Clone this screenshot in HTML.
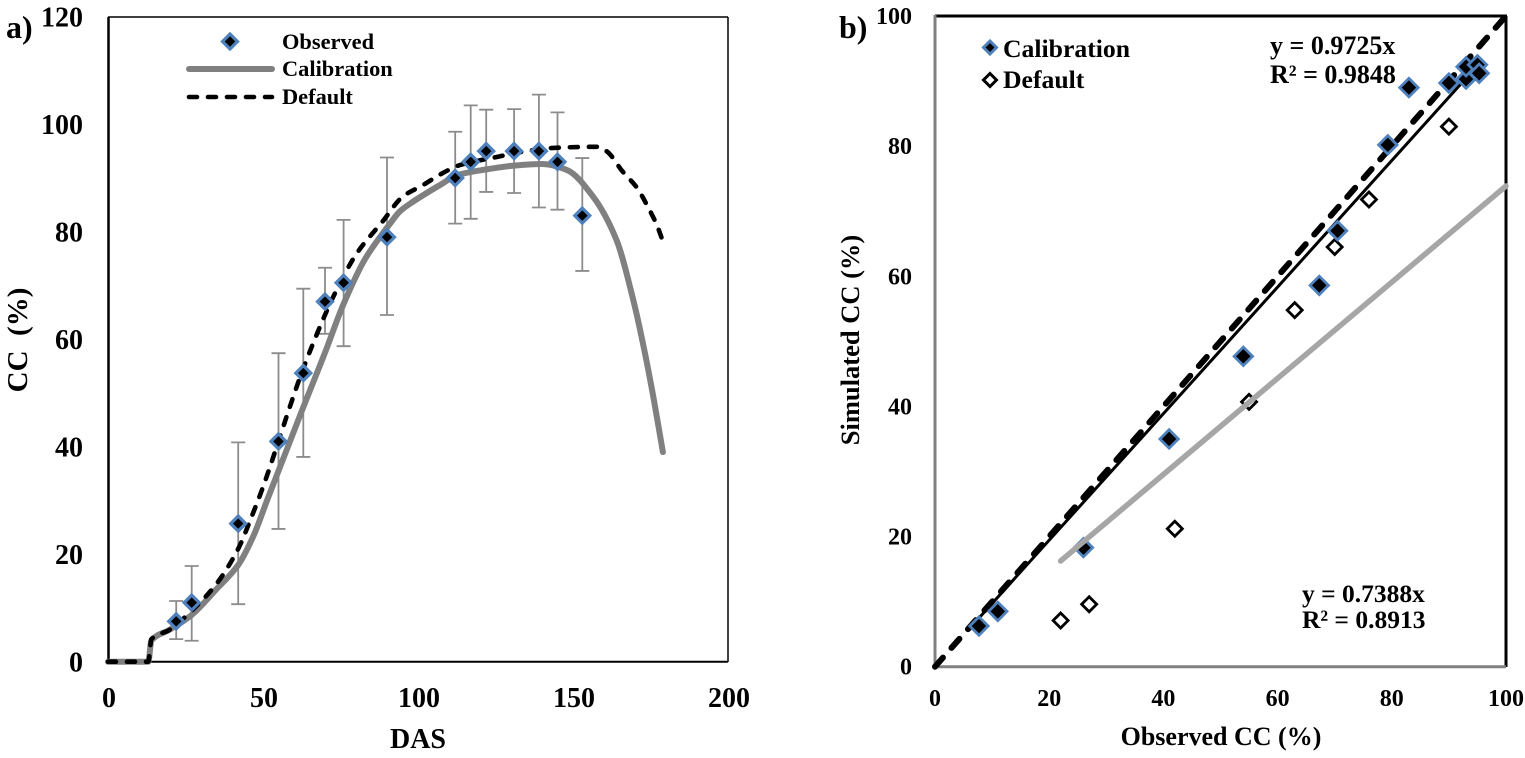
<!DOCTYPE html>
<html lang="en">
<head>
<meta charset="utf-8">
<title>CC observed vs simulated</title>
<style>
html,body{margin:0;padding:0;background:#fff;}
svg{display:block;}
text{font-family:"Liberation Serif",serif;font-weight:bold;fill:#000;}
</style>
</head>
<body>
<svg id="fig" width="1525" height="758" viewBox="0 0 1525 758" xmlns="http://www.w3.org/2000/svg">
  <g id="a-grid">
    <line x1="108" y1="17" x2="728" y2="17" stroke="#000" stroke-width="1.5"/>
    <line x1="728" y1="17" x2="728" y2="662" stroke="#000" stroke-width="1.5"/>
    <line x1="108.5" y1="17" x2="108.5" y2="662" stroke="#000" stroke-width="2.5"/>
    <line x1="108" y1="661.7" x2="728" y2="661.7" stroke="#000" stroke-width="2"/>
    <g id="a-ticks"></g>
    <g id="a-errors"></g>
    <path id="a-cal" fill="none" stroke="#808080" stroke-width="6" stroke-linejoin="round" stroke-linecap="round"/>
    <path id="a-def" fill="none" stroke="#000" stroke-width="4.6" stroke-dasharray="8 11" stroke-linejoin="round" stroke-linecap="round"/>
    <g id="a-obs"></g>
    <text x="6" y="38" font-size="32">a)</text>
    <text x="27" y="340" font-size="29" text-anchor="middle" transform="rotate(-90 27 340)" xml:space="preserve">CC  (%)</text>
    <text x="418" y="748" font-size="28" text-anchor="middle">DAS</text>
    <g>
      <path d="M230 34L237.5 41.5L230 49L222.5 41.5Z" fill="#000" stroke="#4f81bd" stroke-width="3.2"/>
      <text x="282" y="49" font-size="22.4">Observed</text>
      <line x1="189" y1="69" x2="272" y2="69" stroke="#808080" stroke-width="6" stroke-linecap="round"/>
      <text x="282" y="76" font-size="22.4">Calibration</text>
      <line x1="189" y1="97" x2="272" y2="97" stroke="#000" stroke-width="4.6" stroke-dasharray="8 11" stroke-linecap="round"/>
      <text x="282" y="104" font-size="22.4">Default</text>
    </g>
  </g>
  <g id="b-grid">
    <line x1="935" y1="16" x2="1507" y2="16" stroke="#000" stroke-width="3"/>
    <line x1="1506" y1="16" x2="1506" y2="667" stroke="#000" stroke-width="3"/>
    <line x1="935" y1="15" x2="935" y2="668" stroke="#808080" stroke-width="3"/>
    <line x1="935" y1="666.7" x2="1506" y2="666.7" stroke="#808080" stroke-width="3"/>
    <g id="b-ticks"></g>
    <path id="b-one" fill="none" stroke="#000" stroke-width="6" stroke-dasharray="12 13" stroke-linecap="round"/>
    <path id="b-caltrend" fill="none" stroke="#000" stroke-width="3"/>
    <g id="b-def"></g>
    <g id="b-cal"></g>
    <path id="b-deftrend" fill="none" stroke="#a6a6a6" stroke-width="5.5" stroke-linecap="round"/>
    <text x="839" y="38" font-size="32">b)</text>
    <text x="1221" y="745" font-size="26" text-anchor="middle">Observed CC (%)</text>
    <text x="859" y="340" font-size="26.5" text-anchor="middle" transform="rotate(-90 859 340)">Simulated CC (%)</text>
    <g>
      <path d="M990 41L996.5 47.5L990 54L983.5 47.5Z" fill="#000" stroke="#4f81bd" stroke-width="3"/>
      <text x="1003" y="57" font-size="25.7">Calibration</text>
      <path d="M990 73.5L996.5 80L990 86.5L983.5 80Z" fill="#fff" stroke="#000" stroke-width="3"/>
      <text x="1003" y="88" font-size="25.7">Default</text>
    </g>
    <text x="1270" y="54" font-size="26">y = 0.9725x</text>
    <text x="1270" y="83" font-size="26">R² = 0.9848</text>
    <text x="1302" y="602" font-size="25.5">y = 0.7388x</text>
    <text x="1302" y="628" font-size="25.5">R² = 0.8913</text>
  </g>
</svg>
<script>
// Panel a data
const aXTicks = [0, 50, 100, 150, 200];
const aYTicks = [0, 20, 40, 60, 80, 100, 120];
const obsDAS = [22, 27, 42, 55, 63, 70, 76, 90, 112, 117, 122, 131, 139, 145, 153];
const obsCC = [7.5, 11, 25.7, 41, 53.7, 67, 70.5, 79, 90, 93, 95, 95, 95, 93, 83];
const obsUpper = [11.3, 17.8, 40.8, 57.4, 69.4, 73.3, 82.2, 93.8, 98.6, 103.5, 102.7, 102.8, 105.5, 102.2, 93.7];
const obsLower = [4.2, 3.9, 10.7, 24.7, 38.1, 61, 58.7, 64.5, 81.5, 82.4, 87.4, 87.2, 84.5, 84.1, 72.7];
const calDAS = [0, 13, 14, 20, 27, 35, 42, 47, 51.3, 55, 62.6, 70, 75.8, 83, 91, 94, 97.4, 108, 112.5, 121, 131, 140, 148, 156.5, 164, 169.4, 173, 176, 179];
const calCC = [0, 0, 4, 6, 8.7, 13.5, 18, 23.5, 30, 35.5, 46.8, 57.5, 66.3, 75, 81.5, 83.7, 85.2, 89, 90.5, 91.5, 92.3, 92.6, 91.5, 86.5, 78.5, 67.4, 58, 49, 39];
const defDAS = [0, 13, 14, 20, 27, 35, 42, 46, 50, 55, 58.7, 62, 66, 73, 80.3, 88.7, 95, 101.7, 107.6, 113.5, 125.4, 134, 143.7, 158, 161, 166, 170.6, 173.8, 177, 179];
const defCC = [0, 0, 4.2, 6, 9.5, 14.5, 21, 26.5, 32.5, 41, 47.5, 53, 59, 68.3, 76, 82, 86.5, 88.7, 90.8, 92.4, 93.9, 94.9, 95.6, 95.8, 94.9, 91.2, 88.2, 85, 81.3, 78.2];

// Panel b data
const bTicks = [0, 20, 40, 60, 80, 100];
const calObs = [7.7, 11, 26, 41, 54, 67.3, 70.5, 79.3, 83, 90, 93, 93, 95, 95.3];
const calSim = [6.25, 8.5, 18.3, 35, 47.7, 58.6, 67, 80.2, 89, 89.7, 90.3, 92.2, 92.5, 91.2];
const defObs = [22, 27, 42, 55, 63, 70, 76, 90];
const defSim = [7.1, 9.6, 21.2, 40.7, 54.8, 64.5, 71.8, 83];
const oneToOneX = [0, 100];
const oneToOneY = [0, 100];
const calTrendX = [6, 95];
const calTrendY = [5.84, 92.4];
const defTrendX = [22, 100];
const defTrendY = [16.25, 73.88];

const NS = 'http://www.w3.org/2000/svg';
const ax = v => 108 + v * 3.1;
const ay = v => 661.7 - v * 5.375;
const bx = v => 935 + v * 5.71;
const by = v => 666.7 - v * 6.507;

function mk(tag, parent, props) {
  const el = document.createElementNS(NS, tag);
  for (const k in props) el.setAttribute(k, props[k]);
  parent.appendChild(el);
  return el;
}
function linePath(xs, ys, fx, fy) {
  return xs.map((v, i) => (i ? 'L' : 'M') + fx(v).toFixed(1) + ' ' + fy(ys[i]).toFixed(1)).join('');
}
// Monotone cubic through the data points (no overshoot at the emergence step)
function smoothPath(xs, ys, fx, fy) {
  const px = xs.map(fx), py = ys.map(fy), n = px.length;
  const s = [];
  for (let i = 0; i < n - 1; i++) s.push((py[i + 1] - py[i]) / (px[i + 1] - px[i]));
  const m = [s[0]];
  for (let i = 1; i < n - 1; i++) {
    m.push(s[i - 1] * s[i] <= 0 ? 0 : 2 * s[i - 1] * s[i] / (s[i - 1] + s[i]));
  }
  m.push(s[n - 2]);
  let d = 'M' + px[0].toFixed(1) + ' ' + py[0].toFixed(1);
  for (let i = 0; i < n - 1; i++) {
    const h = (px[i + 1] - px[i]) / 3;
    d += 'C' + (px[i] + h).toFixed(1) + ' ' + (py[i] + m[i] * h).toFixed(1) + ' ' +
      (px[i + 1] - h).toFixed(1) + ' ' + (py[i + 1] - m[i + 1] * h).toFixed(1) + ' ' +
      px[i + 1].toFixed(1) + ' ' + py[i + 1].toFixed(1);
  }
  return d;
}
function diamond(cx, cy, r) {
  return 'M' + cx + ' ' + (cy - r) + 'L' + (cx + r) + ' ' + cy + 'L' + cx + ' ' + (cy + r) + 'L' + (cx - r) + ' ' + cy + 'Z';
}

// Panel a ticks
const aTickG = document.getElementById('a-ticks');
aXTicks.forEach(t => {
  const el = mk('text', aTickG, {x: ax(t) + 1, y: 707, 'text-anchor': 'middle', 'font-size': 28});
  el.textContent = t;
  
  
});
aYTicks.forEach(t => {
  const el = mk('text', aTickG, {x: 83, y: ay(t) + 10, 'text-anchor': 'end', 'font-size': 28});
  el.textContent = t;
  
  
});

// Panel a lines
document.getElementById('a-cal').setAttribute('d', smoothPath(calDAS, calCC, ax, ay));
document.getElementById('a-def').setAttribute('d', smoothPath(defDAS, defCC, ax, ay));

// Panel a error bars and markers
const aErrG = document.getElementById('a-errors');
const aObsG = document.getElementById('a-obs');
obsDAS.forEach((d, i) => {
  const x = ax(d), up = ay(obsUpper[i]), lo = ay(obsLower[i]);
  const err = mk('path', aErrG, {
    d: 'M' + x + ' ' + up + 'V' + lo + 'M' + (x - 7) + ' ' + up + 'H' + (x + 7) + 'M' + (x - 7) + ' ' + lo + 'H' + (x + 7),
    fill: 'none', stroke: '#8c8c8c', 'stroke-width': 1.8
  });
  
  
  const m = mk('path', aObsG, {
    d: diamond(x, ay(obsCC[i]), 7.5), fill: '#000', stroke: '#4f81bd', 'stroke-width': 3.2
  });
  
  
});

// Panel b ticks
const bTickG = document.getElementById('b-ticks');
bTicks.forEach(t => {
  const xl = mk('text', bTickG, {x: bx(t), y: 706, 'text-anchor': 'middle', 'font-size': 24});
  xl.textContent = t;
  
  
  const yl = mk('text', bTickG, {x: 912, y: by(t) + 8, 'text-anchor': 'end', 'font-size': 24});
  yl.textContent = t;
  
  
});

// Panel b lines
document.getElementById('b-one').setAttribute('d', linePath(oneToOneX, oneToOneY, bx, by));
document.getElementById('b-caltrend').setAttribute('d', linePath(calTrendX, calTrendY, bx, by));
document.getElementById('b-deftrend').setAttribute('d', linePath(defTrendX, defTrendY, bx, by));

// Panel b markers
const bDefG = document.getElementById('b-def');
defObs.forEach((v, i) => {
  const m = mk('path', bDefG, {
    d: diamond(bx(v), by(defSim[i]), 7.5), fill: '#fff', stroke: '#000', 'stroke-width': 2.8
  });
  
  
});
const bCalG = document.getElementById('b-cal');
calObs.forEach((v, i) => {
  const m = mk('path', bCalG, {
    d: diamond(bx(v), by(calSim[i]), 9.2), fill: '#000', stroke: '#4f81bd', 'stroke-width': 2.8
  });
  
  
});
</script>
</body>
</html>
